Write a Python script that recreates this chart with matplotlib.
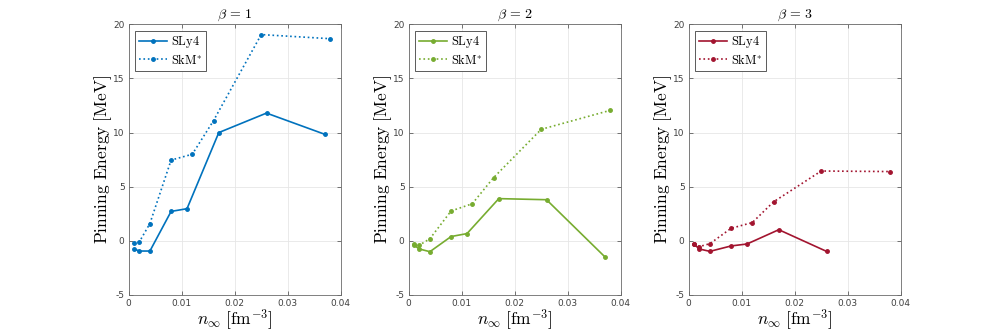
import matplotlib
matplotlib.use("Agg")
import matplotlib.pyplot as plt

plt.rcParams['mathtext.fontset'] = 'cm'

x_sly4 = [0.001, 0.002, 0.004, 0.008, 0.011, 0.017, 0.026, 0.037]
x_skm = [0.001, 0.002, 0.004, 0.008, 0.012, 0.016, 0.025, 0.038]

sly4_b1 = [-0.75, -0.94, -0.94, 2.72, 2.97, 10.0, 11.8, 9.84]
skm_b1 = [-0.23, -0.1, 1.6, 7.46, 8.0, 11.1, 19.05, 18.67]

sly4_b2 = [-0.4, -0.75, -1.0, 0.4, 0.67, 3.9, 3.8, -1.47]
skm_b2 = [-0.25, -0.4, 0.2, 2.76, 3.43, 5.83, 10.3, 12.05]

x_sly4_b3 = [0.001, 0.002, 0.004, 0.008, 0.011, 0.017, 0.026]
sly4_b3 = [-0.3, -0.75, -0.97, -0.47, -0.29, 1.03, -0.97]
skm_b3 = [-0.3, -0.53, -0.26, 1.16, 1.69, 3.6, 6.45, 6.4]

titles = [r'$\beta\,=\,1$', r'$\beta\,=\,2$', r'$\beta\,=\,3$']
colors = ['#0072BD', '#77AC30', '#A2142F']
xticks = [0, 0.01, 0.02, 0.03, 0.04]
xticklabels = ['0', '0.01', '0.02', '0.03', '0.04']
yticks = [-5, 0, 5, 10, 15, 20]
yticklabels = ['-5', '0', '5', '10', '15', '20']

panels = [
    (x_sly4, sly4_b1, x_skm, skm_b1),
    (x_sly4, sly4_b2, x_skm, skm_b2),
    (x_sly4_b3, sly4_b3, x_skm, skm_b3),
]

fig = plt.figure(figsize=(9.97, 3.32), dpi=100)
W, H = 997, 332
lefts = [128.7, 408.7, 688.7]
for i, (xs, ys, xk, yk) in enumerate(panels):
    ax = fig.add_axes([lefts[i] / W, 37 / H, 212 / W, 270.7 / H])
    c = colors[i]
    ax.plot(xs, ys, '-', color=c, lw=1.2, marker='o', ms=2.5, label=r'$\mathrm{SLy4}$')
    ax.plot(xk, yk, ':', color=c, lw=1.2, marker='o', ms=2.5, label=r'$\mathrm{SkM^{*}}$')
    ax.set_xlim(0, 0.04)
    ax.set_ylim(-5, 20)
    ax.set_xticks(xticks)
    ax.set_xticklabels(xticklabels)
    ax.set_yticks(yticks)
    ax.set_yticklabels(yticklabels)
    ax.grid(True, color='#e6e6e6', lw=0.6)
    ax.set_axisbelow(True)
    ax.tick_params(direction='in', length=3, width=0.5, labelsize=6.5,
                   colors='#404040', top=True, right=True, pad=3)
    for s in ax.spines.values():
        s.set_color('#6a6a6a')
        s.set_linewidth(0.6)
    ax.set_title(titles[i], fontsize=10, pad=5)
    ax.set_xlabel(r'$n_\infty\ [\mathrm{fm}^{-3}]$', fontsize=12.5, labelpad=-1)
    ax.set_ylabel(r'$\mathrm{Pinning\ Energy\ [MeV]}$', fontsize=12.5, labelpad=-1)
    leg = ax.legend(loc='upper left', fontsize=9, fancybox=False, framealpha=1,
                    edgecolor='#404040', borderpad=0.3, handlelength=2.3,
                    labelspacing=0.2, borderaxespad=0.5, handletextpad=0.3,
                    numpoints=1)
    leg.get_frame().set_linewidth(0.6)

fig.savefig('out.png', dpi=100)
